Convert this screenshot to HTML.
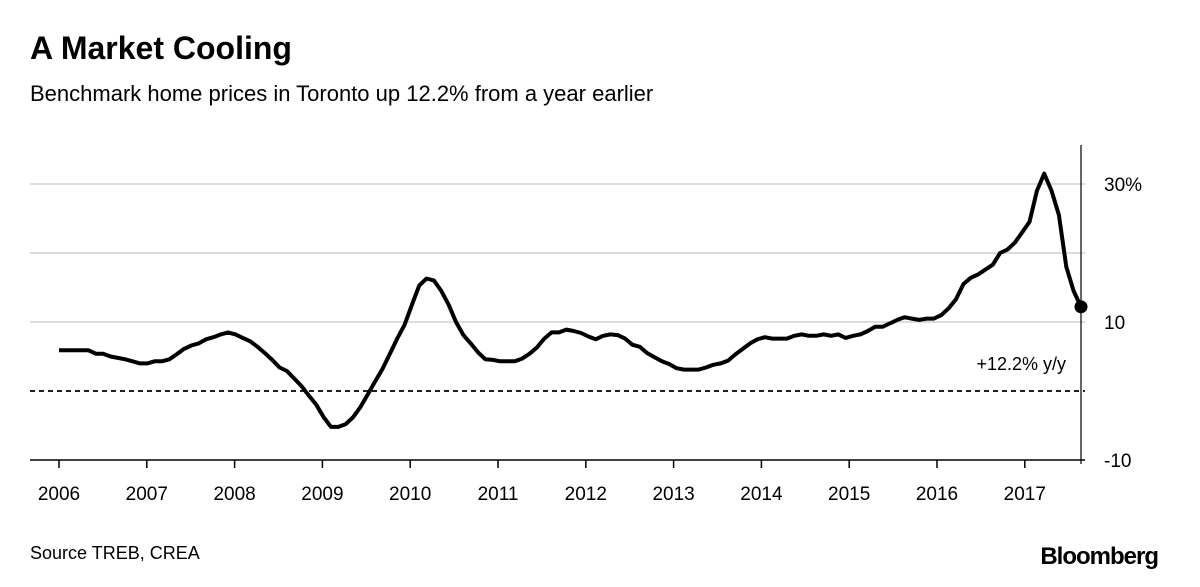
<!DOCTYPE html>
<html><head><meta charset="utf-8"><style>
body{margin:0;background:#fff;width:1200px;height:587px;overflow:hidden;font-family:"Liberation Sans",Arial,sans-serif}
svg{display:block}
</style></head><body>
<svg width="1200" height="587">
<text x="30" y="59" font-size="32" font-weight="bold" fill="#000">A Market Cooling</text>
<text x="30" y="101" font-size="22" fill="#000">Benchmark home prices in Toronto up 12.2% from a year earlier</text>
<g id="grid"></g>
<g id="axes"></g>
<path id="series" fill="none" stroke="#000" stroke-width="4" stroke-linejoin="round"/>
<circle id="endpt" r="6.5" fill="#000"/>
<text x="1066" y="370" font-size="18" text-anchor="end">+12.2% y/y</text>
<text x="30" y="559" font-size="18">Source TREB, CREA</text>
<text x="1158" y="564" font-size="24" font-weight="bold" text-anchor="end" letter-spacing="-1">Bloomberg</text>
</svg>
<script>
const years=["2006","2007","2008","2009","2010","2011","2012","2013","2014","2015","2016","2017"];
const yTicks=[30,10,-10];
const yTickLabels=["30%","10","-10"];
const gridVals=[30,20,10];
const values=[5.9,5.9,5.9,5.9,5.9,5.4,5.4,5.0,4.8,4.6,4.3,4.0,
4.0,4.3,4.3,4.6,5.3,6.1,6.6,6.9,7.5,7.8,8.2,8.5,
8.2,7.7,7.2,6.4,5.5,4.5,3.4,2.9,1.8,0.7,-0.7,-2.0,
-3.8,-5.2,-5.2,-4.8,-3.8,-2.3,-0.5,1.4,3.2,5.4,7.6,9.6,
12.5,15.3,16.3,16.0,14.5,12.5,10.0,8.1,6.9,5.6,4.6,4.5,
4.3,4.3,4.3,4.7,5.4,6.3,7.6,8.5,8.5,8.9,8.7,8.4,
7.9,7.5,8.0,8.2,8.1,7.6,6.7,6.4,5.5,4.9,4.3,3.9,
3.3,3.1,3.1,3.1,3.4,3.8,4.0,4.4,5.3,6.1,6.9,7.5,
7.8,7.6,7.6,7.6,8.0,8.2,8.0,8.0,8.2,8.0,8.2,7.7,
8.0,8.2,8.7,9.3,9.3,9.8,10.3,10.7,10.5,10.3,10.5,10.5,
11.0,12.0,13.3,15.5,16.4,16.9,17.6,18.3,20.0,20.5,21.5,23.0,
24.5,29.0,31.5,29.0,25.5,18.0,14.5,12.2];
const NS="http://www.w3.org/2000/svg";
const x0=59, yearW=87.8;
function xm(i){return x0+i*(1081-x0)/(values.length-1);}
function y(v){return 391-v*6.9;}
const grid=document.getElementById('grid'), axes=document.getElementById('axes');
function mk(tag,attrs,parent){const e=document.createElementNS(NS,tag);for(const k in attrs)e.setAttribute(k,attrs[k]);parent.appendChild(e);return e;}
gridVals.forEach(v=>{
  const l=mk('line',{x1:30,x2:1085,y1:y(v),y2:y(v),stroke:'#dcdcdc','stroke-width':2},grid);
  
  
});
const z=mk('line',{x1:30,x2:1085,y1:y(0),y2:y(0),stroke:'#000','stroke-width':1.8,'stroke-dasharray':'5,4'},grid);


const ax=mk('line',{x1:30,x2:1085,y1:y(-10),y2:y(-10),stroke:'#000','stroke-width':1.5},axes);


years.forEach((yr,i)=>{
  const xx=x0+i*yearW;
  const t=mk('line',{x1:xx,x2:xx,y1:y(-10),y2:y(-10)+8,stroke:'#000','stroke-width':1.5},axes);
  
  
  const tx=mk('text',{x:xx,y:500,'font-size':19,'text-anchor':'middle'},axes);
  tx.textContent=yr;
  
  
});
yTicks.forEach((v,i)=>{
  const tx=mk('text',{x:1104,y:y(v)+7,'font-size':19},axes);
  tx.textContent=yTickLabels[i];
  
  
});
const last=values.length-1;
const vl=mk('line',{x1:xm(last),x2:xm(last),y1:145,y2:y(-10)+4,stroke:'#000','stroke-width':1.2},axes);


document.getElementById('series').setAttribute('d',values.map((v,i)=>(i?'L':'M')+xm(i).toFixed(1)+','+y(v).toFixed(1)).join(''));
const c=document.getElementById('endpt');c.setAttribute('cx',xm(last));c.setAttribute('cy',y(values[last]));
</script>
</body></html>
